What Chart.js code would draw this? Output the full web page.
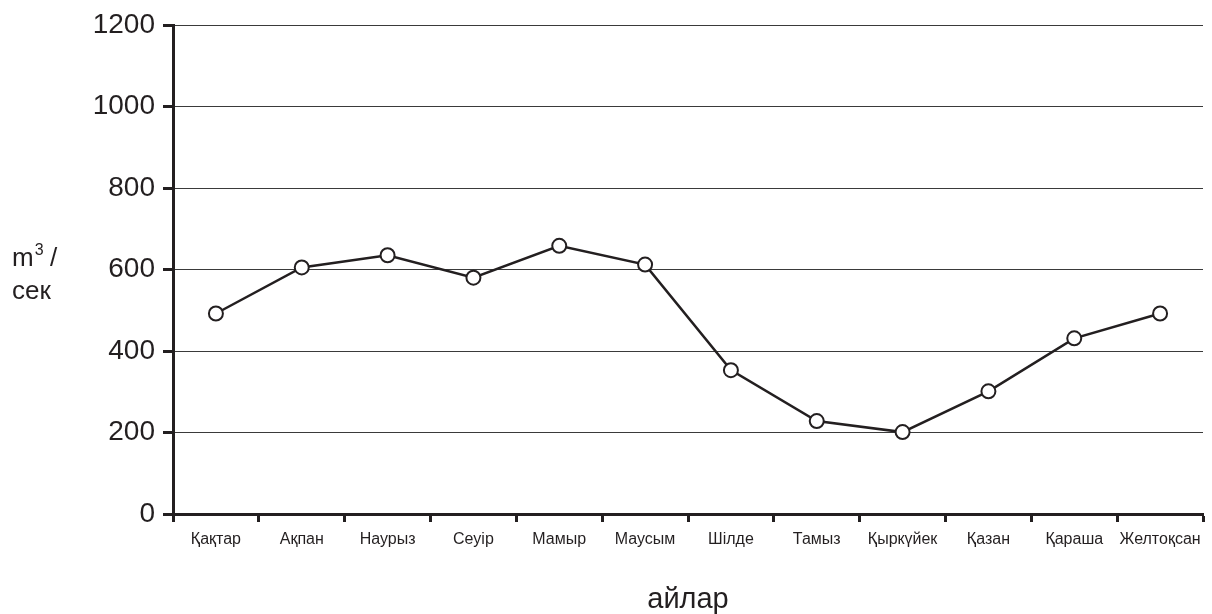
<!DOCTYPE html>
<html>
<head>
<meta charset="utf-8">
<script src="https://cdn.jsdelivr.net/npm/chart.js@4"></script>
<style>
html,body{margin:0;padding:0;background:#fff;}
#wrap{position:relative;width:1212px;height:614px;}
</style>
</head>
<body>
<div id="wrap"><canvas id="c" width="1212" height="614"></canvas></div>
<script>
const months = ["Қақтар","Ақпан","Наурыз","Сеуір","Мамыр","Маусым","Шілде","Тамыз","Қыркүйек","Қазан","Қараша","Желтоқсан"];
const flow = [492, 605, 635, 580, 658, 612, 353, 228, 201, 301, 431, 492];
const yTicks = [0, 200, 400, 600, 800, 1000, 1200];
const yTitleUnit = "m";
const yTitleSup = "3";
const yTitleSlash = "/";
const yTitleLine2 = "сек";
const xTitle = "айлар";

const FONT = "'Liberation Sans', Arial, sans-serif";
const TXT = '#231f20';

const titles = {
  id: 'titles',
  afterDraw(chart) {
    const ctx = chart.ctx, a = chart.chartArea;
    ctx.save();
    ctx.fillStyle = TXT;
    ctx.textBaseline = 'alphabetic';
    ctx.textAlign = 'left';
    ctx.font = "26px " + FONT;
    ctx.fillText(yTitleUnit, 12, 266);
    const mw = ctx.measureText(yTitleUnit).width;
    ctx.font = "16px " + FONT;
    ctx.fillText(yTitleSup, 12 + mw + 1, 255);
    ctx.font = "26px " + FONT;
    ctx.fillText(yTitleSlash, 50, 266);
    ctx.fillText(yTitleLine2, 12, 299);
    ctx.font = "29px " + FONT;
    ctx.textAlign = 'center';
    ctx.textBaseline = 'middle';
    ctx.fillText(xTitle, 688, 600);
    ctx.restore();
  }
};

new Chart(document.getElementById('c'), {
  type: 'line',
  data: {
    labels: months,
    datasets: [{
      data: flow,
      borderColor: '#231f20',
      borderWidth: 2.5,
      pointRadius: 7,
      pointHoverRadius: 7,
      pointBackgroundColor: '#fff',
      pointBorderColor: '#231f20',
      pointBorderWidth: 2,
      tension: 0,
      fill: false
    }]
  },
  options: {
    responsive: false,
    animation: false,
    devicePixelRatio: 1,
    layout: { padding: { top: 25, right: 7, left: 0, bottom: 0 } },
    plugins: { legend: { display: false }, tooltip: { enabled: false } },
    scales: {
      x: {
        type: 'category',
        offset: true,
        afterFit(s) { s.height = 100; },
        grid: { display: true, offset: true, drawOnChartArea: false, drawTicks: true, tickLength: 8, tickColor: '#231f20', tickWidth: 3 },
        border: { display: true, color: '#231f20', width: 3 },
        ticks: { color: TXT, font: { family: FONT, size: 16 }, padding: 8, maxRotation: 0, autoSkip: false }
      },
      y: {
        min: 0, max: 1200,
        afterFit(s) { s.width = 173; },
        afterBuildTicks(s) { s.ticks = yTicks.map(v => ({ value: v })); },
        grid: { color: '#3a3a3a', lineWidth: 1, drawTicks: true, tickLength: 10, tickColor: '#231f20', tickWidth: 3 },
        border: { display: true, color: '#231f20', width: 3 },
        ticks: { color: TXT, font: { family: FONT, size: 28 }, padding: 8, callback: v => String(v) }
      }
    }
  },
  plugins: [titles]
});
</script>
</body>
</html>
